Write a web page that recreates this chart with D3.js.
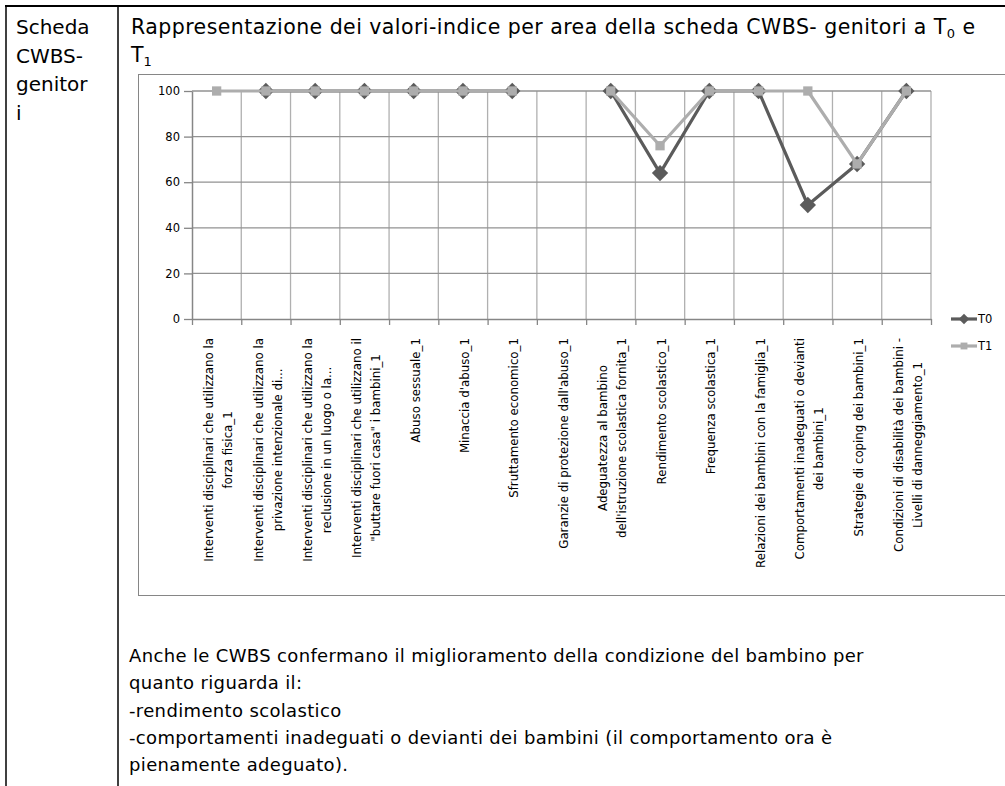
<!DOCTYPE html>
<html>
<head>
<meta charset="utf-8">
<script src="https://cdn.jsdelivr.net/npm/d3@7"></script>
<style>
  html, body { margin: 0; padding: 0; background: #fff; }
  svg { display: block; }
</style>
</head>
<body>
<svg id="chart" width="1005" height="786"></svg>
<script>
// ---- Data ----
const categories = [
  "Interventi disciplinari che utilizzano la\nforza fisica_1",
  "Interventi disciplinari che utilizzano la\nprivazione intenzionale di...",
  "Interventi disciplinari che utilizzano la\nreclusione in un luogo o la...",
  "Interventi disciplinari che utilizzano il\n\"buttare fuori casa\" i bambini_1",
  "Abuso sessuale_1",
  "Minaccia d'abuso_1",
  "Sfruttamento economico_1",
  "Garanzie di protezione dall'abuso_1",
  "Adeguatezza al bambino\ndell'istruzione scolastica fornita_1",
  "Rendimento scolastico_1",
  "Frequenza scolastica_1",
  "Relazioni dei bambini con la famiglia_1",
  "Comportamenti inadeguati o devianti\ndei bambini_1",
  "Strategie di coping dei bambini_1",
  "Condizioni di disabilità dei bambini -\nLivelli di danneggiamento_1"
];
const seriesNames = ["T0", "T1"];
const t0Values = [null, 100, 100, 100, 100, 100, 100, null, 100, 64, 100, 100, 50, 68, 100];
const t1Values = [100, 100, 100, 100, 100, 100, 100, null, 100, 76, 100, 100, 100, 68, 100];
const yTicks = [0, 20, 40, 60, 80, 100];

const sideLabelLines = ["Scheda", "CWBS-", "genitor", "i"];
const titleMain = "Rappresentazione dei valori-indice per area della scheda CWBS- genitori a T";
const bodyLines = [
  "Anche le CWBS confermano il miglioramento della condizione del bambino per",
  "quanto riguarda il:",
  "-rendimento scolastico",
  "-comportamenti inadeguati o devianti dei bambini (il comportamento ora è",
  "pienamente adeguato)."
];

// ---- Drawing ----
const svg = d3.select("#chart");
const docFont = "'DejaVu Sans', sans-serif";
const chartFont = "'DejaVu Sans', sans-serif";

// table frame
svg.append("line").attr("x1", 5).attr("x2", 1005).attr("y1", 6).attr("y2", 6)
  .attr("stroke", "#000").attr("stroke-width", 2);
svg.append("line").attr("x1", 6).attr("x2", 6).attr("y1", 5).attr("y2", 786)
  .attr("stroke", "#000").attr("stroke-width", 1.5);
svg.append("line").attr("x1", 118).attr("x2", 118).attr("y1", 5).attr("y2", 786)
  .attr("stroke", "#000").attr("stroke-width", 1.5);

// side label
svg.append("g").selectAll("text").data(sideLabelLines).join("text")
  .attr("x", 16).attr("y", (d, i) => 34 + i * 28.5)
  .attr("font-family", docFont).attr("font-size", 20).attr("fill", "#000")
  .text(d => d);

// title
const title = svg.append("text").attr("x", 131).attr("y", 34)
  .attr("font-family", docFont).attr("font-size", 20.5).attr("letter-spacing", 0.45).attr("fill", "#000");
title.append("tspan").text(titleMain);
title.append("tspan").attr("font-size", 13).attr("dy", 4).text("0");
title.append("tspan").attr("dy", -4).text(" e");
const title2 = svg.append("text").attr("x", 131).attr("y", 62)
  .attr("font-family", docFont).attr("font-size", 20.5).attr("fill", "#000");
title2.append("tspan").text("T");
title2.append("tspan").attr("font-size", 13).attr("dy", 4).text("1");

// body text
svg.append("g").selectAll("text").data(bodyLines).join("text")
  .attr("x", 129).attr("y", (d, i) => 662 + i * 27.3)
  .attr("font-family", docFont).attr("font-size", 18).attr("letter-spacing", 0.35).attr("fill", "#000")
  .text(d => d);

// chart box
svg.append("rect").attr("x", 138.5).attr("y", 74.5).attr("width", 880).attr("height", 521)
  .attr("fill", "#fff").attr("stroke", "#868686").attr("stroke-width", 1);

const plotLeft = 192, plotRight = 931, plotTop = 91, plotBottom = 319;
const idx = categories.map((d, i) => i);
const x = d3.scaleBand().domain(idx).range([plotLeft, plotRight]);
const xb = d3.scaleLinear().domain([0, categories.length]).range([plotLeft, plotRight]);
const y = d3.scaleLinear().domain([0, 100]).range([plotBottom, plotTop]);

// gridlines
const g = svg.append("g");
g.append("g").selectAll("line").data(d3.range(1, categories.length + 1)).join("line")
  .attr("x1", d => xb(d)).attr("x2", d => xb(d))
  .attr("y1", y(100)).attr("y2", y(0))
  .attr("stroke", "#b0b0b0").attr("stroke-width", 1.3);
g.append("g").selectAll("line").data(yTicks.filter(v => v > 0)).join("line")
  .attr("x1", plotLeft).attr("x2", plotRight)
  .attr("y1", d => y(d)).attr("y2", d => y(d))
  .attr("stroke", "#929292").attr("stroke-width", 1.3);

// y axis
const yAxis = g.append("g").attr("transform", `translate(${plotLeft},0)`)
  .call(d3.axisLeft(y).tickValues(yTicks).tickSize(8).tickSizeOuter(0).tickPadding(4));
yAxis.select(".domain").attr("stroke", "#868686").attr("stroke-width", 1.5);
yAxis.selectAll(".tick line").attr("stroke", "#868686").attr("stroke-width", 1.3);
yAxis.selectAll("text").attr("font-family", chartFont).attr("font-size", 11.5).attr("fill", "#000");

// x axis
const xAxis = g.append("g").attr("transform", `translate(0,${plotBottom})`)
  .call(d3.axisBottom(xb).tickValues(d3.range(0, categories.length + 1)).tickSize(6).tickSizeOuter(0).tickFormat(""));
xAxis.select(".domain").attr("stroke", "#868686").attr("stroke-width", 1.5);
xAxis.selectAll(".tick line").attr("stroke", "#868686").attr("stroke-width", 1.3);

// x labels
const labelG = g.append("g");
categories.forEach((lab, i) => {
  const lines = lab.split("\n");
  const n = lines.length;
  const grp = labelG.append("g")
    .attr("transform", `translate(${x(i) + x.bandwidth() / 2},338) rotate(-90)`);
  const texts = grp.selectAll("text").data(lines).join("text")
    .attr("font-family", chartFont).attr("font-size", 11.8).attr("fill", "#000")
    .attr("text-anchor", "middle")
    .attr("dy", "0.35em")
    .attr("y", (d, j) => 2 + (j - (n - 1) / 2) * 19)
    .text(d => d);
  let maxLen = 0;
  texts.each(function () { maxLen = Math.max(maxLen, this.getComputedTextLength()); });
  texts.attr("x", -maxLen / 2);
});

// series
const series = [
  { name: seriesNames[0], values: t0Values, color: "#5b5b5b", marker: "diamond" },
  { name: seriesNames[1], values: t1Values, color: "#adadad", marker: "square" }
];
const line = d3.line()
  .defined(d => d.v != null)
  .x(d => x(d.i) + x.bandwidth() / 2)
  .y(d => y(d.v));

const diamond = d3.symbol().type(d3.symbolDiamond2).size(170);
const square = d3.symbol().type(d3.symbolSquare2).size(110);

series.forEach(s => {
  const pts = s.values.map((v, i) => ({ i, v }));
  g.append("path").datum(pts).attr("d", line)
    .attr("fill", "none").attr("stroke", s.color).attr("stroke-width", 3.2)
    .attr("stroke-linejoin", "round");
  g.append("g").selectAll("path").data(pts.filter(d => d.v != null)).join("path")
    .attr("transform", d => `translate(${x(d.i) + x.bandwidth() / 2},${y(d.v)})`)
    .attr("d", s.marker === "diamond" ? diamond : square)
    .attr("fill", s.color).attr("stroke", "none");
});

// legend
const legend = g.append("g");
series.forEach((s, k) => {
  const ly = 319 + k * 27;
  legend.append("line").attr("x1", 951).attr("x2", 977).attr("y1", ly).attr("y2", ly)
    .attr("stroke", s.color).attr("stroke-width", 3.2);
  legend.append("path").attr("transform", `translate(964,${ly})`)
    .attr("d", (s.marker === "diamond" ? d3.symbol().type(d3.symbolDiamond2).size(70)
                                        : d3.symbol().type(d3.symbolSquare2).size(60))())
    .attr("fill", s.color);
  legend.append("text").attr("x", 978).attr("y", ly).attr("dy", "0.35em")
    .attr("font-family", chartFont).attr("font-size", 11.5).attr("fill", "#000")
    .text(s.name);
});
</script>
</body>
</html>
